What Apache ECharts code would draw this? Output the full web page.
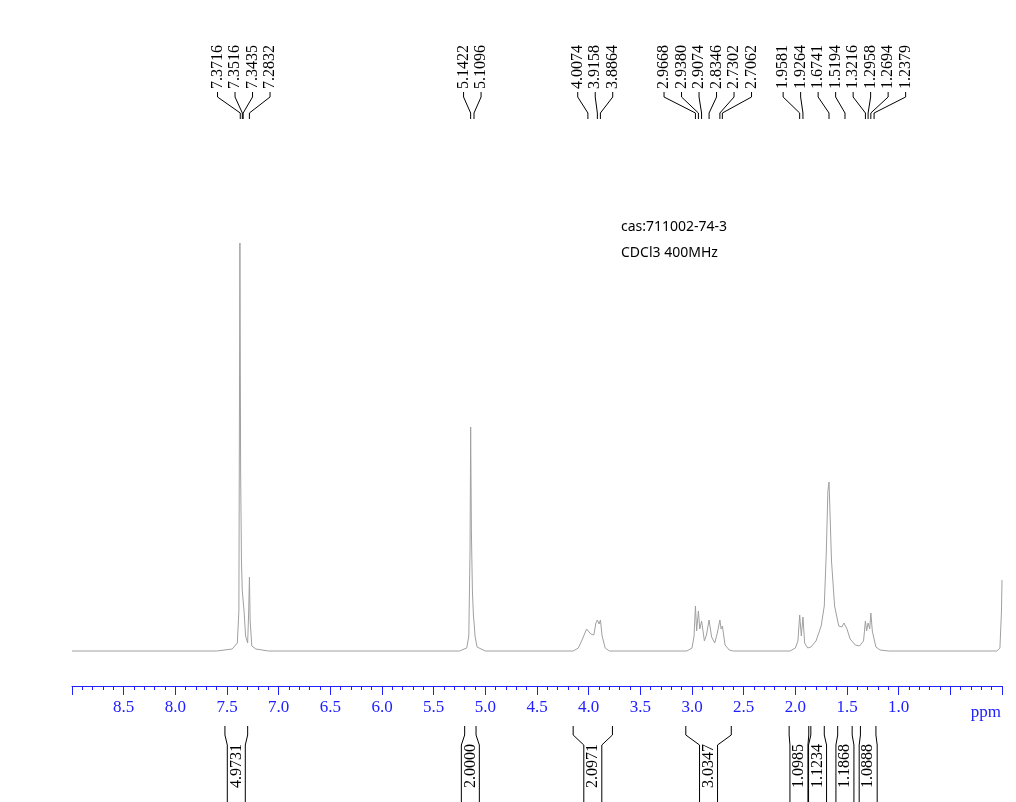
<!DOCTYPE html>
<html><head><meta charset="utf-8">
<script src="https://cdn.jsdelivr.net/npm/echarts@6/dist/echarts.min.js"></script>
<style>html,body{margin:0;padding:0;background:#fff}#c{width:1016px;height:802px}</style>
</head><body><div id="c"></div>
<script>
const spectrum = [
 [9.0,0],[7.60,0],[7.45,2],[7.40,8],[7.385,40],[7.375,408],[7.368,180],[7.36,90],[7.352,60],[7.344,62],[7.335,40],[7.32,15],[7.30,8],[7.29,40],[7.283,74],[7.276,30],[7.26,5],[7.22,2],[7.10,0],
 [5.25,0],[5.18,3],[5.16,15],[5.148,100],[5.142,224],[5.135,120],[5.125,60],[5.115,35],[5.11,30],[5.10,15],[5.08,4],[5.0,0],
 [4.15,0],[4.10,3],[4.06,12],[4.02,22],[4.007,24],[3.98,17],[3.95,16],[3.93,28],[3.916,31],[3.90,27],[3.886,31],[3.87,15],[3.84,3],[3.80,0],
 [3.05,0],[3.00,3],[2.98,15],[2.967,45],[2.955,20],[2.938,40],[2.925,22],[2.907,30],[2.88,10],[2.86,16],[2.835,31],[2.81,14],[2.78,8],[2.755,18],[2.73,31],[2.718,22],[2.706,25],[2.68,6],[2.64,1],[2.60,0],
 [2.05,0],[2.00,3],[1.975,10],[1.958,36],[1.942,15],[1.926,34],[1.91,8],[1.88,3],[1.85,4],[1.80,10],[1.75,25],[1.72,45],[1.70,100],[1.685,160],[1.674,169],[1.665,140],[1.65,90],[1.62,45],[1.58,25],[1.55,24],[1.53,28],[1.519,28],[1.50,22],[1.47,12],[1.42,6],[1.38,5],[1.34,10],[1.322,30],[1.31,20],[1.296,28],[1.28,22],[1.269,38],[1.255,20],[1.238,12],[1.22,4],[1.18,1],[1.10,0],
 [0.05,0],[0.02,3],[0.005,40],[0.0,71]
];
const peakGroups = [
 [7.3716,7.3516,7.3435,7.2832],
 [5.1422,5.1096],
 [4.0074,3.9158,3.8864],
 [2.9668,2.9380,2.9074,2.8346,2.7302,2.7062],
 [1.9581,1.9264,1.6741,1.5194,1.3216,1.2958,1.2694,1.2379]
];
const integrals = [
 [7.52,7.30,'4.9731'],[5.20,5.09,'2.0000'],[4.15,3.77,'2.0971'],[3.06,2.62,'3.0347'],
 [2.06,1.87,'1.0985'],[1.85,1.72,'1.1234'],[1.59,1.45,'1.1868'],[1.37,1.22,'1.0888']
];
const notes = ['cas:711002-74-3','CDCl3 400MHz'];

const chart = echarts.init(document.getElementById('c'));
const BLUE = '#2020ff';
chart.setOption({
 animation:false,
 grid:{left:72,right:14,top:51,bottom:116},
 xAxis:{type:'value',min:0,max:9,interval:0.5,inverse:true,
  axisLine:{onZero:false,lineStyle:{color:BLUE}},
  axisTick:{length:9,lineStyle:{color:BLUE}},
  minorTick:{show:true,splitNumber:5,length:4,lineStyle:{color:BLUE}},
  splitLine:{show:false},
  axisLabel:{color:BLUE,fontFamily:'Liberation Serif',fontSize:17,margin:13,
   formatter:v=>(v>=0.99&&v<=8.51)?v.toFixed(1):''}},
 yAxis:{type:'value',min:-35,max:600,show:false},
 series:[{type:'line',data:spectrum,showSymbol:false,lineStyle:{color:'#a0a0a0',width:1}}]
});

const g=[];
const px=v=>chart.convertToPixel({xAxisIndex:0},v);
const font='16px "Liberation Serif"';
peakGroups.forEach(grp=>{
 const xs=grp.map(px);
 const c=xs.reduce((a,b)=>a+b,0)/xs.length;
 grp.forEach((p,i)=>{
  const lx=c+(i-(grp.length-1)/2)*17.5;
  g.push({type:'text',x:lx,y:89,rotation:Math.PI/2,style:{text:p.toFixed(4),font:font,fill:'#000',textAlign:'left',textVerticalAlign:'middle'}});
  g.push({type:'polyline',shape:{points:[[lx,92],[lx,97],[xs[i],113],[xs[i],119]]},style:{stroke:'#000',lineWidth:1,fill:null}});
 });
});
integrals.forEach(([a,b,t])=>{
 const xa=px(a),xb=px(b),c=(xa+xb)/2;
 const il=c-9,ir=c+9;
 g.push({type:'polyline',shape:{points:[[xa,726],[xa,735],[il,745],[il,802]]},style:{stroke:'#000',lineWidth:1,fill:null}});
 g.push({type:'polyline',shape:{points:[[xb,726],[xb,735],[ir,745],[ir,802]]},style:{stroke:'#000',lineWidth:1,fill:null}});
 g.push({type:'text',x:c,y:766,rotation:Math.PI/2,style:{text:t,font:'16px "Liberation Serif"',fill:'#000',textAlign:'center',textVerticalAlign:'middle'}});
});
g.push({type:'text',x:1001,y:713,style:{text:'ppm',font:'17px "Liberation Serif"',fill:BLUE,textAlign:'right',textVerticalAlign:'middle'}});
notes.forEach((t,i)=>g.push({type:'text',x:621,y:227+i*26,style:{text:t,font:'14px "Noto Sans"',fill:'#000',textVerticalAlign:'middle'}}));
chart.setOption({graphic:g});
</script></body></html>
